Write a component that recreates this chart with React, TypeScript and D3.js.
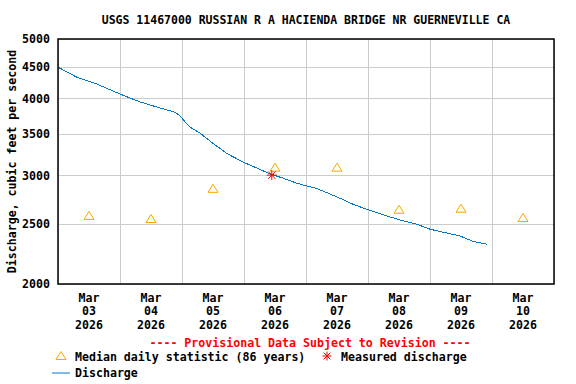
import * as d3 from 'd3'

// Discharge (cfs)
const flowTimes = [
  '2026-03-03 00:00', '2026-03-03 07:00', '2026-03-03 15:00', '2026-03-04 00:00',
  '2026-03-04 07:30', '2026-03-04 14:00', '2026-03-04 21:30', '2026-03-04 23:30',
  '2026-03-05 01:15', '2026-03-05 03:00', '2026-03-05 07:00', '2026-03-05 12:00',
  '2026-03-05 17:15', '2026-03-05 23:45', '2026-03-06 05:00', '2026-03-06 10:00',
  '2026-03-06 15:15', '2026-03-06 20:30', '2026-03-07 01:00', '2026-03-07 03:00',
  '2026-03-07 08:00', '2026-03-07 13:15', '2026-03-07 18:15', '2026-03-08 00:00',
  '2026-03-08 06:00', '2026-03-08 12:30', '2026-03-08 19:00', '2026-03-09 00:00',
  '2026-03-09 06:30', '2026-03-09 11:30', '2026-03-09 16:45', '2026-03-09 22:15',
]
const flowValues = [
  4500, 4340, 4225, 4070,
  3955, 3880, 3800, 3740,
  3665, 3600, 3515, 3385,
  3260, 3155, 3085, 3020,
  2970, 2915, 2880, 2870,
  2815, 2755, 2695, 2640,
  2590, 2540, 2500, 2455,
  2420, 2395, 2345, 2320,
]

// Median daily statistic (86 years), plotted at noon
const medianDays = ['03', '04', '05', '06', '07', '08', '09', '10']
const medianValues = [2580, 2550, 2855, 3090, 3090, 2640, 2650, 2560]

// Field measurement
const measuredTime = '2026-03-06 10:45'
const measuredValue = 3005

const yTicks = [2000, 2500, 3000, 3500, 4000, 4500, 5000]

const W = 576
const H = 384
const M = { left: 58, right: 554, top: 39, bottom: 284 }
const FONT = '"DejaVu Sans Mono", monospace'
const FS = 11.6

const parse = d3.timeParse('%Y-%m-%d %H:%M')

const Asterisk = ({ x, y, r }: { x: number; y: number; r: number }) => (
  <g stroke="#ff0000" strokeWidth={1}>
    <line x1={x - r} y1={y} x2={x + r} y2={y} />
    <line x1={x} y1={y - r} x2={x} y2={y + r} />
    <line x1={x - r * 0.75} y1={y - r * 0.75} x2={x + r * 0.75} y2={y + r * 0.75} />
    <line x1={x - r * 0.75} y1={y + r * 0.75} x2={x + r * 0.75} y2={y - r * 0.75} />
  </g>
)

const triPath = (x: number, y: number) =>
  `M${x - 5},${y + 3.5} L${x},${y - 4.5} L${x + 5},${y + 3.5} Z`

export default function App() {
  const x = d3.scaleTime()
    .domain([parse('2026-03-03 00:00')!, parse('2026-03-11 00:00')!])
    .range([M.left, M.right])
  const y = d3.scaleLog().domain([2000, 5000]).range([M.bottom, M.top])

  const flow = flowTimes.map((t, i) => ({ t: parse(t)!, v: flowValues[i] }))
  const line = d3.line<{ t: Date; v: number }>()
    .x(d => x(d.t))
    .y(d => y(d.v))

  const days = d3.timeDay.range(x.domain()[0], d3.timeDay.offset(x.domain()[1], 1))
  const medians = medianDays.map((d, i) => ({ t: parse(`2026-03-${d} 12:00`)!, v: medianValues[i], d }))
  const midY = (M.top + M.bottom) / 2

  return (
    <div style={{ position: 'absolute', left: 0, top: 0 }}>
      <svg width={W} height={H} fontFamily={FONT} fontWeight="bold" fontSize={FS}>
        <rect width={W} height={H} fill="#ffffff" />
        <text x={306} y={20} fontSize={11.5} textAnchor="middle" dominantBaseline="central">
          USGS 11467000 RUSSIAN R A HACIENDA BRIDGE NR GUERNEVILLE CA
        </text>

        {/* grid */}
        <g stroke="#cccccc" strokeWidth={1} shapeRendering="crispEdges">
          {yTicks.map(t => (
            <line key={t} x1={M.left} x2={M.right} y1={y(t)} y2={y(t)} />
          ))}
          {days.map((d, i) => (
            <line key={i} x1={x(d)} x2={x(d)} y1={M.top} y2={M.bottom} />
          ))}
        </g>

        {/* y tick labels */}
        {yTicks.map(t => (
          <text key={t} x={50} y={y(t)} textAnchor="end" dominantBaseline="central">
            {t}
          </text>
        ))}
        <text
          transform={`translate(12,${midY}) rotate(-90)`}
          textAnchor="middle"
          dominantBaseline="central"
        >
          Discharge, cubic feet per second
        </text>

        {/* x tick labels */}
        {medians.map(m => (
          <g key={m.d} textAnchor="middle">
            <text x={x(m.t)} y={298} dominantBaseline="central">Mar</text>
            <text x={x(m.t)} y={311} dominantBaseline="central">{m.d}</text>
            <text x={x(m.t)} y={324.5} dominantBaseline="central">2026</text>
          </g>
        ))}

        {/* discharge */}
        <path
          d={line(flow) || ''}
          fill="none"
          stroke="#0078cc"
          strokeWidth={1}
          shapeRendering="crispEdges"
        />

        {/* medians */}
        {medians.map(m => (
          <path key={m.d} d={triPath(x(m.t), y(m.v))} fill="none" stroke="#ffa500" strokeWidth={1} />
        ))}

        <Asterisk x={x(parse(measuredTime)!)} y={y(measuredValue)} r={5} />

        <rect
          x={M.left}
          y={M.top}
          width={M.right - M.left}
          height={M.bottom - M.top}
          fill="none"
          stroke="#000000"
          strokeWidth={1.5}
        />

        {/* footer */}
        <text x={310} y={343} textAnchor="middle" dominantBaseline="central" fill="#ff0000">
          ---- Provisional Data Subject to Revision ----
        </text>
        <path d={triPath(61, 356)} fill="none" stroke="#ffa500" strokeWidth={1} />
        <text x={75} y={357} dominantBaseline="central">Median daily statistic (86 years)</text>
        <Asterisk x={327} y={356} r={4.5} />
        <text x={341} y={357} dominantBaseline="central">Measured discharge</text>
        <line x1={52} x2={70} y1={373} y2={373} stroke="#0078cc" strokeWidth={1} />
        <text x={75} y={373} dominantBaseline="central">Discharge</text>
      </svg>
    </div>
  )
}
